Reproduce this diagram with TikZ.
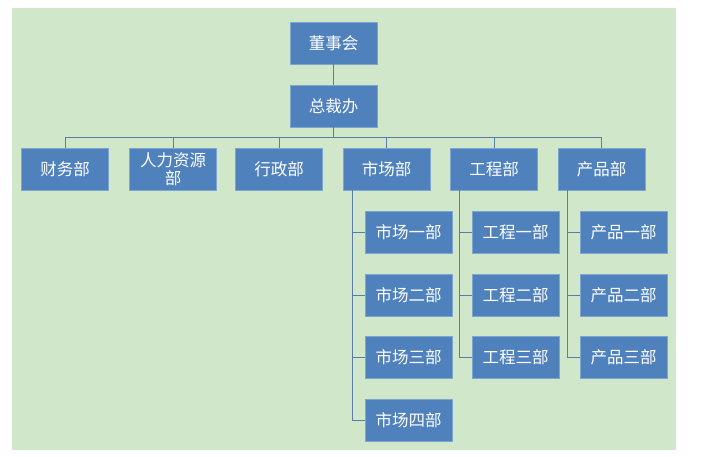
\documentclass[tikz,border=0pt]{standalone}
\usepackage{fontspec}
\setmainfont{Noto Sans CJK SC}
\usetikzlibrary{positioning}
\definecolor{bgreen}{HTML}{D1E7CA}
\definecolor{boxblue}{HTML}{4F81BD}
\definecolor{boxedge}{HTML}{7FA6D3}
\definecolor{linkblue}{HTML}{5A7DA6}
\tikzset{
  unit/.style={draw=boxedge,fill=boxblue,text=white,minimum width=87pt,minimum height=42pt,
    inner sep=1pt,align=center,font=\fontsize{16.5}{17}\selectfont,text width=80pt},
  link/.style={draw=linkblue,line width=1pt}
}
\begin{document}
\begin{tikzpicture}[x=1pt,y=-1pt]
  \useasboundingbox (0,0) rectangle (703,456);
  \fill[bgreen] (12,8) rectangle (676,450);

  \node[unit] (board) at (333.5,43) {董事会};
  \node[unit] (ceo) at (333.5,106) {总裁办};

  % first row
  \node[unit] (fin) at (65,169) {财务部};
  \node[unit] (hr) at (173,169) {人力资源\\[1pt]部};
  \node[unit] (adm) at (279,169) {行政部};
  \node[unit] (mkt) at (386.5,169) {市场部};
  \node[unit] (eng) at (494,169) {工程部};
  \node[unit] (prd) at (601.5,169) {产品部};

  \draw[link] (board) -- (ceo);
  \coordinate (bus) at (333.5,137);
  \draw[link] (ceo.south) -- (bus);
  \draw[link] (fin.north) |- (prd.north |- bus) -- (prd.north);
  \foreach \d in {hr,adm,mkt,eng}
    \draw[link] (\d.north) -- (\d.north |- bus);

  %------ sub units
  \foreach \n/\t in {1/一,2/二,3/三,4/四}
    \node[unit] (mkt\n) at (408.5,170+62.5*\n) {市场\t 部};
  \foreach \n/\t in {1/一,2/二,3/三}{
    \node[unit] (eng\n) at (515.5,170+62.5*\n) {工程\t 部};
    \node[unit] (prd\n) at (623.5,170+62.5*\n) {产品\t 部};
  }

  \draw[link] (mkt.south -| 352,0) -- (mkt4.west -| 352,0) -- (mkt4.west);
  \foreach \n in {1,2,3} \draw[link] (mkt\n.west -| 352,0) -- (mkt\n.west);
  \draw[link] (eng.south -| 459,0) -- (eng3.west -| 459,0) -- (eng3.west);
  \foreach \n in {1,2} \draw[link] (eng\n.west -| 459,0) -- (eng\n.west);
  \draw[link] (prd.south -| 567,0) -- (prd3.west -| 567,0) -- (prd3.west);
  \foreach \n in {1,2} \draw[link] (prd\n.west -| 567,0) -- (prd\n.west);
\end{tikzpicture}
\end{document}
